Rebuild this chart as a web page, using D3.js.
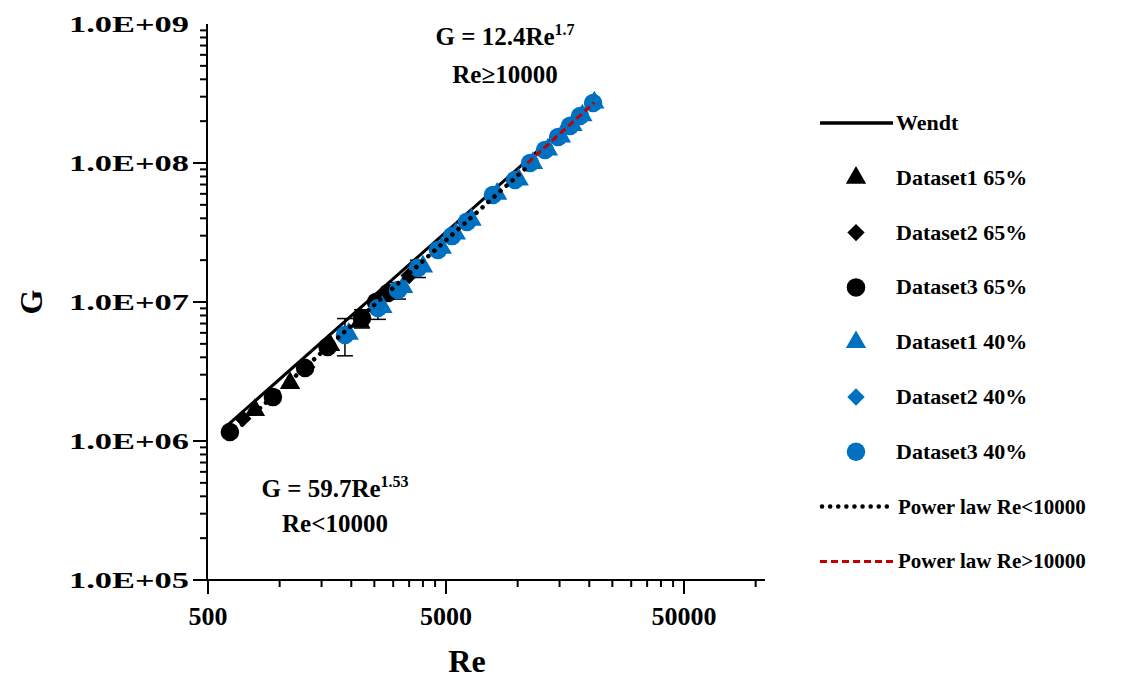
<!DOCTYPE html><html><head><meta charset="utf-8"><script src="https://cdn.jsdelivr.net/npm/d3@7"></script>
<style>body{margin:0;background:#fff}text{font-family:"Liberation Serif","Times New Roman",serif;font-weight:bold}</style></head><body><svg id="c" width="1143" height="681"></svg><script>
const d1_65_re=[787,1106,1629,2175], d1_65_g=[1.67e6,2.61e6,4.9e6,7.2e6];
const d2_65_re=[700,1300,2600,3500], d2_65_g=[1.45e6,3.4e6,9.3e6,1.55e7];
const d3_65_re=[618,937,1279,1590,2218,2540,2851], d3_65_g=[1.16e6,2.07e6,3.35e6,4.74e6,7.67e6,1.0e7,1.16e7];
const d1_40_re=[1950,2700,3300,4000,4800,5500,6400,8200,10100,11600,13400,15200,17000,18700,21000], d1_40_g=[5.9e6,9.2e6,1.28e7,1.8e7,2.45e7,3.1e7,3.9e7,6.0e7,7.6e7,1.0e8,1.25e8,1.55e8,1.87e8,2.2e8,2.72e8];
const d2_40_re=[1900,2620,3180,3850,4680,5350,6200,7950,9850,11400,13100,14900,16700,18400,20800], d2_40_g=[5.8e6,9.1e6,1.23e7,1.77e7,2.38e7,3.0e7,3.8e7,5.9e7,7.5e7,1.0e8,1.24e8,1.54e8,1.85e8,2.18e8,2.7e8];
const d3_40_re=[1881,2588,3143,3813,4627,5296,6124,7870,9750,11270,13030,14790,16600,18280,20750], d3_40_g=[5.79e6,9.06e6,1.22e7,1.76e7,2.37e7,2.98e7,3.77e7,5.89e7,7.55e7,1.0e8,1.24e8,1.54e8,1.85e8,2.18e8,2.7e8];
const err_re=[1881,2588,3143,3813,2218], err_lo=[4.1e6,7.5e6,1.05e7,1.5e7,6.5e6], err_hi=[7.6e6,1.05e7,1.38e7,2.0e7,8.8e6];
const wendt_re=[580,21000], wendt_g=[1.22e6,2.8e8];
const pl1_re=[618,11000], pl1_g=[1.1e6,9.4e7];
const pl2_re=[11000,21000], pl2_g=[1.0e8,2.72e8];
const xTicks=[500,5000,50000], yTicks=[1e5,1e6,1e7,1e8,1e9];
const yLabels=["1.0E+05","1.0E+06","1.0E+07","1.0E+08","1.0E+09"];
const legend=["Wendt","Dataset1 65%","Dataset2 65%","Dataset3 65%","Dataset1 40%","Dataset2 40%","Dataset3 40%","Power law Re<10000","Power law Re>10000"];

const svg=d3.select("#c");
const x=d3.scaleLog().domain([500,500*Math.pow(10,557/238)]).range([208,765]);
const y=d3.scaleLog().domain([1e5,1e9]).range([580,24]);
const blk="#000", blu="#0070c0";
svg.append("line").attr("x1",207).attr("x2",765).attr("y1",580).attr("y2",580).attr("stroke","#000").attr("stroke-width",2);
svg.append("line").attr("x1",207).attr("x2",207).attr("y1",24).attr("y2",580).attr("stroke","#000").attr("stroke-width",2);
for(let d=100;d<1e9;d*=10){for(let m=1;m<=9;m++){const v=d*m;if(v<1e5||v>1e9)continue;const maj=m==1;
 svg.append("line").attr("x1",207).attr("x2",maj?193:200).attr("y1",y(v)).attr("y2",y(v)).attr("stroke","#000").attr("stroke-width",2);}}
for(let d=500;d<=50000;d*=10){for(let m=1;m<=9;m++){const v=d*m;if(v>100000)continue;const maj=m==1;
 svg.append("line").attr("y1",580).attr("y2",maj?594:587).attr("x1",x(v)).attr("x2",x(v)).attr("stroke","#000").attr("stroke-width",2);}}
svg.selectAll(".yl").data(yTicks).enter().append("text").attr("x",189).attr("y",d=>y(d)+8).attr("text-anchor","end").attr("font-size",24).attr("textLength",120).attr("lengthAdjust","spacingAndGlyphs").text((d,i)=>yLabels[i]);
svg.selectAll(".xl").data(xTicks).enter().append("text").attr("x",d=>x(d)).attr("y",625).attr("text-anchor","middle").attr("font-size",26).text(d=>d);
svg.append("text").attr("x",467).attr("y",672).attr("text-anchor","middle").attr("font-size",32).text("Re");
svg.append("text").attr("transform","translate(42,302) rotate(-90)").attr("text-anchor","middle").attr("font-size",32).text("G");
const a1=svg.append("text").attr("x",505).attr("y",45).attr("text-anchor","middle").attr("font-size",25);
a1.append("tspan").text("G = 12.4Re");a1.append("tspan").attr("font-size",16).attr("dy",-10).text("1.7");
svg.append("text").attr("x",505).attr("y",83).attr("text-anchor","middle").attr("font-size",25).text("Re≥10000");
const a2=svg.append("text").attr("x",335).attr("y",497).attr("text-anchor","middle").attr("font-size",25);
a2.append("tspan").text("G = 59.7Re");a2.append("tspan").attr("font-size",16).attr("dy",-10).text("1.53");
svg.append("text").attr("x",335).attr("y",532).attr("text-anchor","middle").attr("font-size",25).text("Re<10000");
const line=d3.line().x(d=>x(d[0])).y(d=>y(d[1]));
const zip=(a,b)=>a.map((v,i)=>[v,b[i]]);
svg.append("path").attr("d",line(zip(wendt_re,wendt_g))).attr("stroke",blk).attr("stroke-width",3).attr("fill","none");
err_re.forEach((r,i)=>{const g=svg.append("g").attr("stroke","#000").attr("stroke-width",1.5);
 g.append("line").attr("x1",x(r)).attr("x2",x(r)).attr("y1",y(err_lo[i])).attr("y2",y(err_hi[i]));
 [err_lo[i],err_hi[i]].forEach(v=>g.append("line").attr("x1",x(r)-8).attr("x2",x(r)+8).attr("y1",y(v)).attr("y2",y(v)));});
const sym={tri:d3.symbol(d3.symbolTriangle,180),dia:d3.symbol(d3.symbolSquare,150),cir:d3.symbol(d3.symbolCircle,270)};
function pts(re,g,s,c){svg.append("g").selectAll("path").data(zip(re,g)).enter().append("path").attr("d",sym[s]).attr("transform",d=>`translate(${x(d[0])},${y(d[1])})`+(s=="dia"?" rotate(45)":"")).attr("fill",c);}
pts(d1_65_re,d1_65_g,"tri",blk);pts(d2_65_re,d2_65_g,"dia",blk);pts(d3_65_re,d3_65_g,"cir",blk);
pts(d1_40_re,d1_40_g,"tri",blu);pts(d2_40_re,d2_40_g,"dia",blu);pts(d3_40_re,d3_40_g,"cir",blu);
svg.append("path").attr("d",line(zip(pl1_re,pl1_g))).attr("stroke",blk).attr("stroke-width",4.5).attr("stroke-dasharray","0.1 8").attr("stroke-linecap","round").attr("fill","none");
svg.append("path").attr("d",line(zip(pl2_re,pl2_g))).attr("stroke","#c00000").attr("stroke-width",3).attr("stroke-dasharray","7 4").attr("fill","none");
const ly=i=>123+i*54.8;
legend.forEach((t,i)=>{const cy=ly(i);
 svg.append("text").attr("x",i>=7?898:896).attr("y",cy+7).attr("font-size",i>=7?21:22).text(t);});
svg.append("line").attr("x1",820).attr("x2",893).attr("y1",ly(0)).attr("y2",ly(0)).attr("stroke",blk).attr("stroke-width",3.5);
[["tri",blk],["dia",blk],["cir",blk],["tri",blu],["dia",blu],["cir",blu]].forEach((s,i)=>svg.append("path").attr("d",sym[s[0]]).attr("transform",`translate(856,${ly(i+1)})`+(s[0]=="dia"?" rotate(45)":"")).attr("fill",s[1]));
svg.append("line").attr("x1",822).attr("x2",893).attr("y1",ly(7)).attr("y2",ly(7)).attr("stroke",blk).attr("stroke-width",4.5).attr("stroke-dasharray","0.1 8").attr("stroke-linecap","round");
svg.append("line").attr("x1",820).attr("x2",893).attr("y1",ly(8)).attr("y2",ly(8)).attr("stroke","#c00000").attr("stroke-width",3).attr("stroke-dasharray","7 4");
</script></body></html>
